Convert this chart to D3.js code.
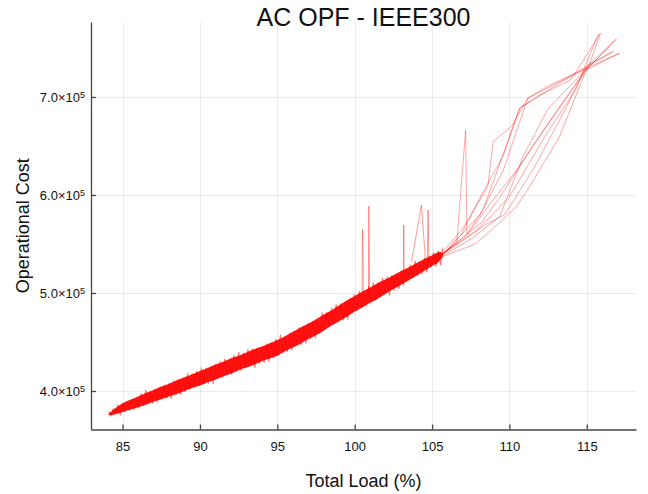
<!DOCTYPE html>
<html>
<head>
<meta charset="utf-8">
<script src="https://cdn.jsdelivr.net/npm/d3@7"></script>
<style>
  body { margin: 0; background: #fff; }
  svg { display: block; font-family: "Liberation Sans", Arial, Helvetica, sans-serif; }
</style>
</head>
<body>
<svg width="648" height="494"></svg>
<script>
// AC OPF - IEEE300 : operational cost against total load

// tick values
const xTicks = [85, 90, 95, 100, 105, 110, 115];
const yTicks = [400000, 500000, 600000, 700000];

// solid core of the low-load band: load, lower and upper cost
const coreLoad = [
  84.1, 84.5, 85, 85.5, 86, 86.5, 87, 87.5, 88, 88.5, 89, 89.5, 90, 90.5, 91, 91.5,
  92, 92.5, 93, 93.5, 94, 94.5, 95, 95.5, 96, 96.5, 97, 97.5, 98, 98.5, 99, 99.5,
  100, 100.5, 101, 101.5, 102, 102.5, 103, 103.5, 104, 104.5, 105, 105.5, 105.7
];
const coreLow = [
  375200, 376100, 378500, 381000, 383500, 386000, 389000, 391500, 394500, 397000, 400000, 403000, 405500, 408800, 411500, 414800,
  417500, 421100, 423900, 426700, 430300, 433100, 435900, 440500, 444400, 448300, 453000, 456900, 461500, 466700, 471200, 475800,
  481000, 485200, 490000, 494200, 499100, 504000, 508400, 513300, 517700, 522600, 527500, 532900, 537700
];
const coreHigh = [
  376800, 382100, 387500, 391000, 394500, 398000, 401000, 404500, 407500, 411000, 414000, 417000, 420500, 423400, 426900, 429800,
  433300, 435900, 439300, 442700, 445300, 448700, 452100, 455900, 460400, 464900, 468600, 473100, 478100, 482500, 487600, 492600,
  497000, 501600, 505600, 510200, 514100, 518000, 522400, 526300, 530700, 534600, 538500, 541900, 540700
];

// ragged samples around the band (zig-zag)
const bandLoad = [
  84.10, 84.25, 84.40, 84.55, 84.70, 84.85, 85.00, 85.15, 85.30, 85.45, 85.60, 85.75, 85.90,
  86.05, 86.20, 86.35, 86.50, 86.65, 86.80, 86.95, 87.10, 87.25, 87.40, 87.55, 87.70, 87.85,
  88.00, 88.15, 88.30, 88.45, 88.60, 88.75, 88.90, 89.05, 89.20, 89.35, 89.50, 89.65, 89.80,
  89.95, 90.10, 90.25, 90.40, 90.55, 90.70, 90.85, 91.00, 91.15, 91.30, 91.45, 91.60, 91.75,
  91.90, 92.05, 92.20, 92.35, 92.50, 92.65, 92.80, 92.95, 93.10, 93.25, 93.40, 93.55, 93.70,
  93.85, 94.00, 94.15, 94.30, 94.45, 94.60, 94.75, 94.90, 95.05, 95.20, 95.35, 95.50, 95.65,
  95.80, 95.95, 96.10, 96.25, 96.40, 96.55, 96.70, 96.85, 97.00, 97.15, 97.30, 97.45, 97.60,
  97.75, 97.90, 98.05, 98.20, 98.35, 98.50, 98.65, 98.80, 98.95, 99.10, 99.25, 99.40, 99.55,
  99.70, 99.85, 100.00, 100.15, 100.30, 100.45, 100.60, 100.75, 100.90, 101.05, 101.20, 101.35, 101.50,
  101.65, 101.80, 101.95, 102.10, 102.25, 102.40, 102.55, 102.70, 102.85, 103.00, 103.15, 103.30, 103.45,
  103.60, 103.75, 103.90, 104.05, 104.20, 104.35, 104.50, 104.65, 104.80, 104.95, 105.10, 105.25, 105.40,
  105.55, 105.70
];
const bandCost = [
  379000, 374600, 381900, 377000, 386000, 375300, 387500, 378900, 388800, 380000, 391400, 381300, 392700,
  382800, 397400, 385300, 400800, 386800, 399400, 387600, 402100, 388700, 403300, 393100, 406100, 392700,
  407800, 392200, 410300, 396200, 411400, 396500, 412800, 399400, 418000, 402400, 417500, 404900, 420400,
  405600, 423600, 407800, 423500, 407700, 424600, 407500, 426800, 413300, 430000, 414000, 432500, 416800,
  431200, 416900, 436400, 420000, 439500, 420900, 438900, 423700, 442400, 426100, 443100, 424000, 443500,
  428400, 444600, 429000, 447800, 430100, 448800, 434000, 452700, 436800, 457200, 438900, 455500, 440200,
  459200, 441800, 460800, 447700, 464800, 447300, 465900, 448500, 469300, 453600, 470900, 454400, 473300,
  458600, 479800, 462700, 480200, 466400, 484400, 468000, 488100, 471800, 488900, 472500, 490800, 473300,
  494200, 480500, 498300, 481800, 501800, 485400, 501100, 486800, 506700, 490600, 510600, 492400, 510700,
  495900, 515000, 499100, 516500, 497800, 517700, 502900, 519600, 504400, 522000, 507900, 524000, 512400,
  528400, 515800, 532700, 518000, 532000, 519700, 535600, 521500, 537600, 527000, 541300, 527200, 542900,
  528800, 546200
];

// isolated spikes above the band [load, cost]
const spikeLines = [
  [[100.47, 487000], [100.50, 565000], [100.53, 562000], [100.56, 489000]],
  [[100.89, 495000], [100.92, 588800], [100.96, 492000]],
  [[103.14, 515000], [103.17, 569400], [103.20, 516000]],
  [[103.67, 531900], [104.32, 589800], [104.57, 533700]],
  [[104.70, 530000], [104.74, 584700], [104.80, 532000]]
];

// sparse high-load runs [load, cost]
const fanLines = [
  [[105.6, 540000], [107.0, 566000], [108.6, 608500], [108.95, 654400], [110.12, 669700], [111.19, 698700], [113.67, 719100], [115.0, 731000], [116.9, 759000]],
  [[105.7, 539000], [106.6, 552000], [107.17, 666000], [107.25, 560000], [108.3, 585000], [110.66, 688500], [113.4, 716000], [115.1, 730000], [116.46, 751000]],
  [[105.8, 541000], [108.1, 580000], [109.6, 625000], [111.19, 698700], [112.6, 712000], [114.96, 729300], [117.11, 744600]],
  [[105.6, 537000], [107.6, 556000], [109.37, 577900], [110.9, 640000], [112.5, 688000], [114.2, 716000], [115.2, 733000], [116.68, 746200]],
  [[105.5, 536000], [107.8, 550000], [109.37, 572000], [110.45, 588100], [111.3, 608500], [113.24, 659500], [114.96, 727500], [117.11, 744600]],
  [[105.4, 536000], [108.2, 572000], [109.4, 598000], [111.5, 650000], [113.6, 697000], [115.1, 730000], [115.88, 765000]],
  [[105.7, 540000], [107.9, 564000], [110.0, 598000], [112.3, 660000], [114.3, 708000], [115.74, 764300]],
  [[105.5, 538000], [107.3, 560000], [108.7, 590000], [110.6, 628000], [112.8, 680000], [114.8, 725000], [116.9, 758900]],
  [[105.6, 539000], [108.5, 570000], [109.7, 580000], [111.6, 628000], [113.5, 684000], [115.0, 732000], [116.68, 746200]],
  [[105.8, 541000], [106.9, 560000], [108.2, 600000], [109.6, 640000], [110.66, 688500], [112.0, 702000], [114.0, 718000], [115.88, 765000]]
];

//selecting root svg
const svg = d3.select("svg");

// plot area edges
const plotLeft = 91, plotRight = 636, plotTop = 22, plotBottom = 429.5;

const x = d3.scaleLinear().domain([82.96, 118.18]).range([plotLeft, plotRight]);
const y = d3.scaleLinear().domain([360700, 776500]).range([plotBottom, plotTop]);

// grid lines
const grid = svg.append("g");
grid.selectAll(".vgrid")
  .data(xTicks)
  .join("line")
  .attr("class", "vgrid")
  .attr("x1", (d) => Math.round(x(d)) + 0.5)
  .attr("x2", (d) => Math.round(x(d)) + 0.5)
  .attr("y1", plotTop)
  .attr("y2", plotBottom)
  .attr("stroke", "#000")
  .attr("stroke-opacity", 0.08);
grid.selectAll(".hgrid")
  .data(yTicks)
  .join("line")
  .attr("class", "hgrid")
  .attr("x1", plotLeft)
  .attr("x2", plotRight)
  .attr("y1", (d) => Math.round(y(d)) + 0.5)
  .attr("y2", (d) => Math.round(y(d)) + 0.5)
  .attr("stroke", "#000")
  .attr("stroke-opacity", 0.08);

// line and area generators
const line = d3.line()
  .x((d) => x(d[0]))
  .y((d) => y(d[1]));
const area = d3.area()
  .x((d) => x(d.load))
  .y0((d) => y(d.low))
  .y1((d) => y(d.high))
  .curve(d3.curveMonotoneX);

const plot = svg.append("g");

// band core
const corePts = coreLoad.map((v, i) => ({ load: v, low: coreLow[i], high: coreHigh[i] }));
plot.append("path")
  .datum(corePts)
  .attr("d", area)
  .attr("fill", "#ff0000")
  .attr("fill-opacity", 0.92);

// ragged band edges
const bandPts = bandLoad.map((v, i) => [v, bandCost[i]]);
plot.append("path")
  .datum(bandPts)
  .attr("d", line)
  .attr("fill", "none")
  .attr("stroke", "#ff0000")
  .attr("stroke-width", 1.1)
  .attr("stroke-opacity", 0.55)
  .attr("stroke-linejoin", "round");

// spikes and high-load runs
plot.selectAll(".spike")
  .data(spikeLines)
  .join("path")
  .attr("class", "spike")
  .attr("d", line)
  .attr("fill", "none")
  .attr("stroke", "#ff0000")
  .attr("stroke-width", 1)
  .attr("stroke-opacity", 0.4);
plot.selectAll(".fan")
  .data(fanLines)
  .join("path")
  .attr("class", "fan")
  .attr("d", line)
  .attr("fill", "none")
  .attr("stroke", "#ff0000")
  .attr("stroke-width", 1)
  .attr("stroke-opacity", 0.35);

// axes
const xAxis = svg.append("g")
  .attr("transform", `translate(0,${plotBottom})`)
  .call(d3.axisBottom(x).tickValues(xTicks).tickSizeInner(-5).tickSizeOuter(0).tickPadding(12));
const yAxis = svg.append("g")
  .attr("transform", `translate(${plotLeft},0)`)
  .call(d3.axisLeft(y).tickValues(yTicks).tickSizeInner(-5).tickSizeOuter(0).tickPadding(6));

[xAxis, yAxis].forEach((a) => {
  a.select(".domain").attr("stroke", "#444").attr("stroke-width", 1.3);
  a.selectAll(".tick line").attr("stroke", "#444").attr("stroke-width", 1.3);
  a.selectAll(".tick text")
    .attr("fill", "#111")
    .attr("font-size", 13)
    .attr("font-family", "'Liberation Sans', Arial, sans-serif");
});

// y labels as a.b x 10^5
yAxis.selectAll(".tick text")
  .text(null)
  .each(function (d) {
    const t = d3.select(this);
    t.append("tspan").text((d / 1e5).toFixed(1) + "×10");
    t.append("tspan").attr("dy", "-0.45em").attr("font-size", 9).text("5");
  });

// title and axis labels
svg.append("text")
  .text("AC OPF - IEEE300")
  .attr("x", (plotLeft + plotRight) / 2)
  .attr("y", 26)
  .attr("text-anchor", "middle")
  .attr("font-size", 25)
  .attr("fill", "#111");
svg.append("text")
  .text("Total Load (%)")
  .attr("x", (plotLeft + plotRight) / 2)
  .attr("y", 487)
  .attr("text-anchor", "middle")
  .attr("font-size", 18)
  .attr("fill", "#111");
svg.append("text")
  .text("Operational Cost")
  .attr("transform", `translate(29,${(plotTop + plotBottom) / 2}) rotate(-90)`)
  .attr("text-anchor", "middle")
  .attr("font-size", 18)
  .attr("fill", "#111");
</script>
</body>
</html>
